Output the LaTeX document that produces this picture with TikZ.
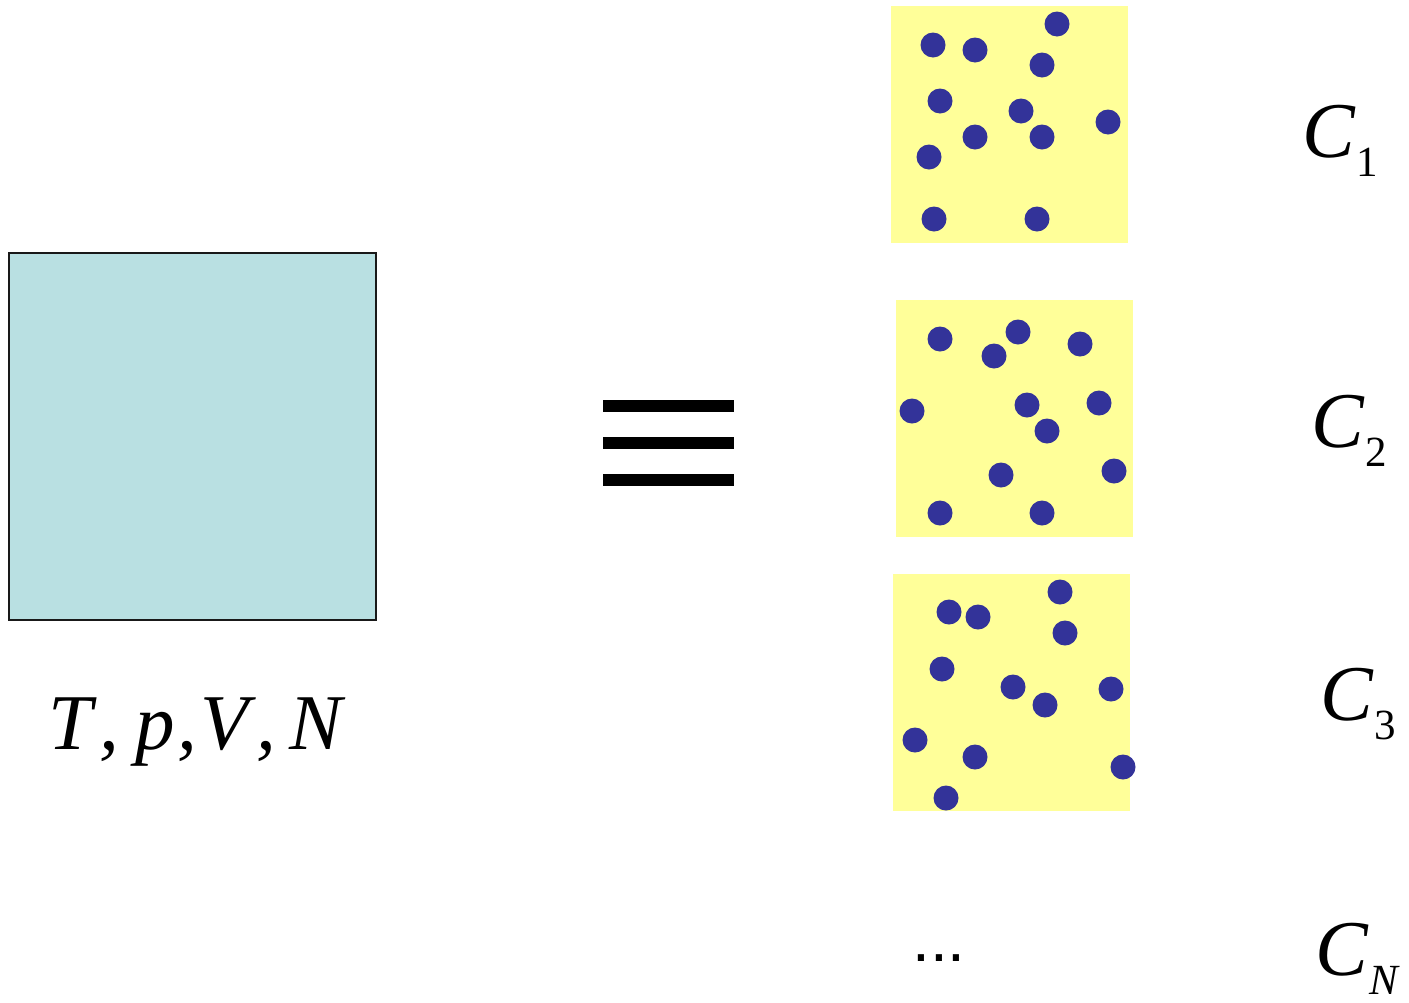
\documentclass[tikz,border=0pt]{standalone}
\usepackage{fontspec}
\setmainfont{Liberation Serif}
\newfontfamily\arialfont{Liberation Sans}
\definecolor{boxblue}{HTML}{B9E0E2}
\definecolor{boxyellow}{HTML}{FFFF99}
\definecolor{dotblue}{HTML}{333399}
\newcommand{\Csub}[1]{{\itshape C}\kern2pt\raisebox{-19pt}{\fontsize{43}{43}\selectfont #1}}
\begin{document}
\begin{tikzpicture}[x=1pt,y=-1pt,
  mol/.style={circle,fill=dotblue,inner sep=0pt,minimum size=25pt},
  ybox/.style={fill=boxyellow,draw=none},
  lab/.style={anchor=base west,inner sep=0pt,font=\fontsize{79}{79}\selectfont},
  bar/.style={fill=black,draw=none}]
\useasboundingbox (0,0) rectangle (1409,1002);
% system box
\node[draw=black!90,line width=1.6pt,fill=boxblue,minimum width=367pt,minimum height=367pt,inner sep=0pt] (sys) at (192.5,436.5) {};
\node[lab] (tpvn) at (48,749) {\itshape T\kern7pt,\kern17pt p\kern2pt,\kern3pt V\kern8pt,\kern13pt N};
% equivalence sign
\fill[bar] (603,400) rectangle (734,412);
\fill[bar] (603,437) rectangle (734,449);
\fill[bar] (603,474) rectangle (734,486);
% copies
\fill[ybox] (891,6) rectangle (1128,243);
\fill[ybox] (896,300) rectangle (1133,537);
\fill[ybox] (893,574) rectangle (1130,811);
\foreach \p in {(933,45),(975,50),(1057,24),(1042,65),(940,101),(1021,111),(1108,122),(975,137),(1042,137),(929,157),(934,219),(1037,219),
  (940,339),(1018,332),(994,356),(1080,344),(912,411),(1027,405),(1099,403),(1047,431),(1001,475),(1114,471),(940,513),(1042,513),
  (1060,592),(949,612),(978,617),(1065,633),(942,669),(1013,687),(1045,705),(1111,689),(915,740),(975,757),(1123,767),(946,798)}
  \node[mol] at \p {};
\node[lab] (c1) at (1302,157) {\Csub{1}};
\node[lab] (c2) at (1311,447) {\Csub{2}};
\node[lab] (c3) at (1320,720) {\Csub{3}};
\node[lab] (cn) at (1315,975) {\Csub{\itshape N}};
\node[anchor=base west,inner sep=0pt,font=\arialfont\fontsize{64}{64}\selectfont] (dots) at (912,961) {...};
\end{tikzpicture}
\end{document}
